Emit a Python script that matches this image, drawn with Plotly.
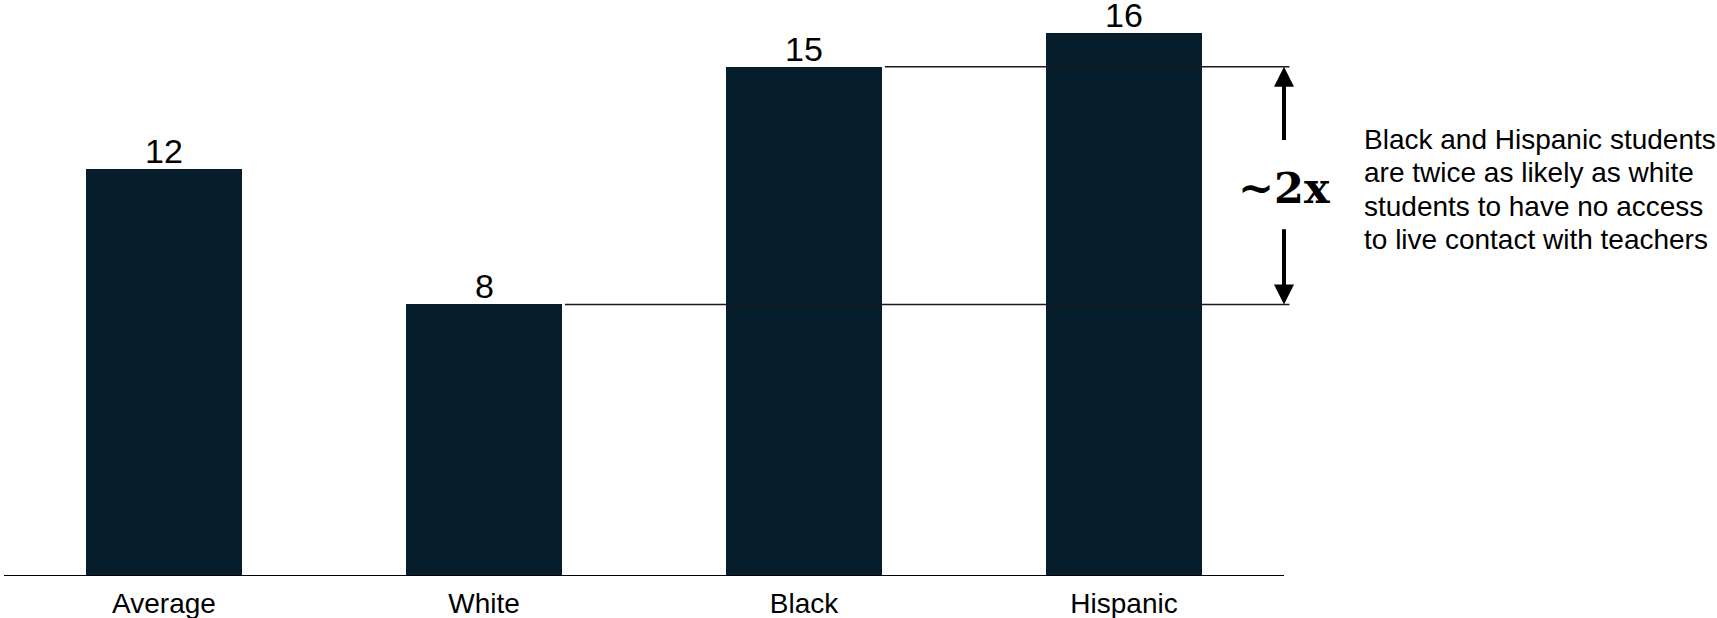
import plotly.graph_objects as go

# Share of students with no access to live contact with teachers (%)
groups = ["Average", "White", "Black", "Hispanic"]
values = [12, 8, 15, 16]

note_lines = [
    "Black and Hispanic students",
    "are twice as likely as white",
    "students to have no access",
    "to live contact with teachers",
]
ratio_label = "~2x"

BAR_COLOR = "#061d2c"
SANS = "Liberation Sans, Arial, sans-serif"
SERIF = "DejaVu Serif, serif"

BAR_WIDTH = 0.49
X_RANGE = [-0.5, 3.55]
Y_RANGE = [0, 16.88]


def to_paper_x(x):
    return (x - X_RANGE[0]) / (X_RANGE[1] - X_RANGE[0])


def to_paper_y(y):
    return (y - Y_RANGE[0]) / (Y_RANGE[1] - Y_RANGE[0])


fig = go.Figure(
    go.Bar(
        x=list(range(len(groups))),
        y=values,
        width=BAR_WIDTH,
        marker=dict(color=BAR_COLOR, line=dict(width=0)),
        cliponaxis=False,
        hoverinfo="skip",
    )
)

white_val = values[groups.index("White")]
black_val = values[groups.index("Black")]
white_x = groups.index("White")
black_x = groups.index("Black")
line_end = 3.517
arrow_x = 3.5

shapes = [
    # baseline
    dict(type="line", xref="x", yref="y", x0=-0.5, x1=3.5, y0=0, y1=0,
         line=dict(color="#000000", width=2)),
    # reference level of the White bar
    dict(type="line", xref="x", yref="y", x0=white_x + BAR_WIDTH / 2 + 0.008,
         x1=line_end, y0=white_val, y1=white_val,
         line=dict(color="#1a1a1a", width=1.6)),
    # reference level of the Black bar
    dict(type="line", xref="x", yref="y", x0=black_x + BAR_WIDTH / 2 + 0.008,
         x1=line_end, y0=black_val, y1=black_val,
         line=dict(color="#1a1a1a", width=1.6)),
]

annotations = []

# value labels above the bars
for i, v in enumerate(values):
    annotations.append(dict(
        x=i, y=v, xref="x", yref="y", text=str(v), showarrow=False,
        xanchor="center", yanchor="bottom", yshift=-3,
        font=dict(family=SANS, size=34, color="#000000"),
    ))

# double arrow between the two reference levels, split around the label
mid = 11.42
annotations.append(dict(
    x=arrow_x, y=black_val, xref="x", yref="y",
    ax=arrow_x, ay=12.80, axref="x", ayref="y",
    text="", showarrow=True, arrowhead=2, arrowsize=1.0,
    arrowwidth=4, arrowcolor="#000000",
))
annotations.append(dict(
    x=arrow_x, y=white_val, xref="x", yref="y",
    ax=arrow_x, ay=10.26, axref="x", ayref="y",
    text="", showarrow=True, arrowhead=2, arrowsize=1.0,
    arrowwidth=4, arrowcolor="#000000",
))
annotations.append(dict(
    x=arrow_x, y=mid, xref="x", yref="y",
    text="<b>" + ratio_label + "</b>", showarrow=False,
    xanchor="center", yanchor="middle",
    font=dict(family=SERIF, size=43, color="#000000"),
))

# explanatory note, one annotation per line
note_x = 3.744
note_top = 12.35
note_step = 0.985
for i, line in enumerate(note_lines):
    annotations.append(dict(
        x=to_paper_x(note_x), y=to_paper_y(note_top - i * note_step),
        xref="paper", yref="paper",
        text=line, showarrow=False, xanchor="left", yanchor="bottom",
        align="left",
        font=dict(family=SANS, size=28, color="#000000"),
    ))

fig.update_layout(
    width=1717,
    height=618,
    margin=dict(l=4, r=1717 - 4 - 1296, t=3, b=42, autoexpand=False),
    plot_bgcolor="#ffffff",
    paper_bgcolor="#ffffff",
    showlegend=False,
    bargap=0,
    shapes=shapes,
    annotations=annotations,
    xaxis=dict(
        range=X_RANGE,
        automargin=False,
        tickmode="array",
        tickvals=list(range(len(groups))),
        ticktext=groups,
        tickfont=dict(family=SANS, size=28, color="#000000"),
        ticklabelstandoff=8,
        showgrid=False,
        zeroline=False,
        showline=False,
        ticks="",
        fixedrange=True,
    ),
    yaxis=dict(
        range=Y_RANGE,
        automargin=False,
        visible=False,
        showgrid=False,
        zeroline=False,
        fixedrange=True,
    ),
)

fig.write_html("out.html", config=dict(displayModeBar=False))
